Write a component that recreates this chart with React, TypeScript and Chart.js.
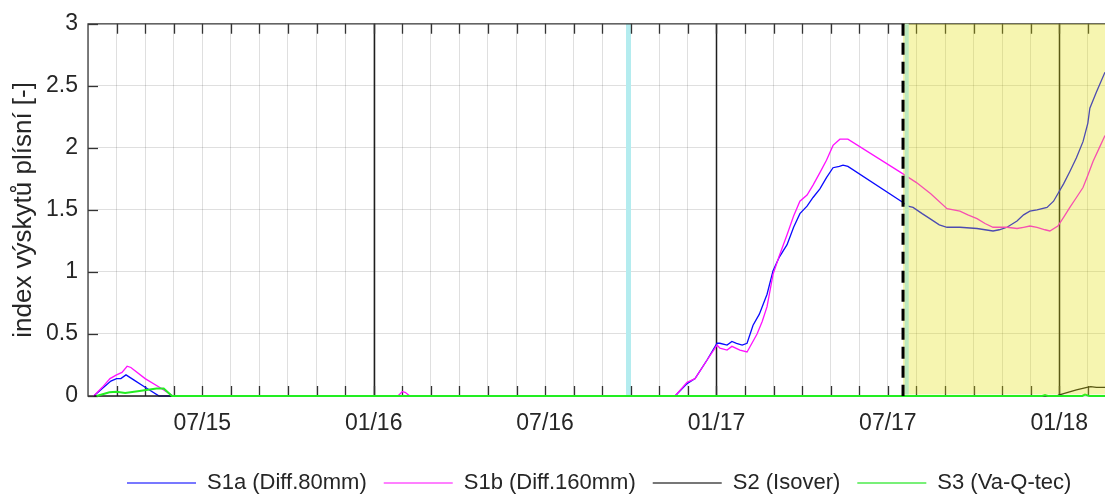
import React, { useEffect, useRef } from 'react';
import { Chart, registerables } from 'chart.js';

Chart.register(...registerables);

// x values are months counted from 01/2015 (0 = Jan 2015)
const xMin = 2;
const xMax = 37.6;
const xTickMonths = [6, 12, 18, 24, 30, 36];
const xTickLabels = ['07/15', '01/16', '07/16', '01/17', '07/17', '01/18'];
const yTickValues = [0, 0.5, 1, 1.5, 2, 2.5, 3];
const yTickLabels = ['0', '0.5', '1', '1.5', '2', '2.5', '3'];
const yTitle = 'index výskytů plísní [-]';

const seriesLabels = ['S1a (Diff.80mm)', 'S1b (Diff.160mm)', 'S2 (Isover)', 'S3 (Va-Q-tec)'];
const seriesColors = ['#0a0aff', '#ff10ff', '#1c1c1c', '#22ee22'];
const seriesWidths = [1.3, 1.3, 1.3, 2.0];
const legendColors = ['#7878ff', '#ff80ff', '#777777', '#78f078'];

const s1aMonths = [2.2, 2.5, 2.8, 3.0, 3.15, 3.33, 3.6, 4.0, 4.49, 12.0, 22.55, 22.97, 23.25, 23.67, 24.02, 24.12, 24.37, 24.54, 24.7, 24.9, 25.07, 25.28, 25.5, 25.77, 25.98, 26.2, 26.47, 26.7, 26.92, 27.17, 27.38, 27.62, 27.85, 28.08, 28.3, 28.43, 28.6, 30.53, 30.7, 30.88, 31.2, 31.47, 31.8, 32.07, 32.52, 33.12, 33.4, 33.68, 33.9, 34.17, 34.52, 34.75, 34.97, 35.22, 35.57, 35.8, 35.95, 36.15, 36.37, 36.6, 36.83, 37.0, 37.07, 37.3, 37.6];
const s1aValues = [0, 0.06, 0.12, 0.14, 0.14, 0.17, 0.13, 0.07, 0, 0, 0, 0.1, 0.14, 0.29, 0.425, 0.425, 0.41, 0.44, 0.425, 0.41, 0.425, 0.57, 0.66, 0.82, 1.01, 1.12, 1.22, 1.36, 1.47, 1.53, 1.6, 1.67, 1.76, 1.84, 1.85, 1.86, 1.85, 1.56, 1.53, 1.52, 1.47, 1.43, 1.38, 1.36, 1.36, 1.35, 1.34, 1.33, 1.34, 1.36, 1.41, 1.46, 1.49, 1.5, 1.52, 1.57, 1.63, 1.71, 1.81, 1.92, 2.05, 2.2, 2.32, 2.45, 2.61];

const s1bMonths = [2.2, 2.5, 2.77, 3.0, 3.19, 3.37, 3.5, 4.0, 4.5, 4.98, 12.85, 13.0, 13.1, 13.27, 22.55, 22.97, 23.25, 23.67, 24.02, 24.12, 24.37, 24.54, 24.82, 25.07, 25.42, 25.6, 25.77, 25.98, 26.2, 26.47, 26.7, 26.92, 27.17, 27.38, 27.62, 27.85, 28.08, 28.32, 28.6, 30.53, 31.0, 31.5, 32.07, 32.52, 32.8, 33.12, 33.4, 33.68, 34.17, 34.52, 34.75, 34.97, 35.22, 35.5, 35.67, 35.95, 36.15, 36.37, 36.6, 36.83, 37.0, 37.18, 37.4, 37.6];
const s1bValues = [0, 0.07, 0.14, 0.17, 0.19, 0.24, 0.23, 0.14, 0.07, 0, 0, 0.035, 0.03, 0, 0, 0.11, 0.14, 0.29, 0.41, 0.385, 0.37, 0.4, 0.37, 0.355, 0.5, 0.6, 0.72, 0.98, 1.13, 1.3, 1.45, 1.57, 1.62, 1.7, 1.8, 1.9, 2.02, 2.07, 2.07, 1.79, 1.72, 1.63, 1.51, 1.49, 1.46, 1.43, 1.39, 1.36, 1.36, 1.35, 1.36, 1.37, 1.36, 1.34, 1.33, 1.37, 1.44, 1.52, 1.6, 1.68, 1.78, 1.89, 2.0, 2.1];

const s2Months = [2.2, 20.0, 35.9, 36.0, 36.3, 36.6, 36.97, 37.1, 37.3, 37.6];
const s2Values = [0, 0, 0, 0.01, 0.03, 0.05, 0.07, 0.075, 0.07, 0.07];

const s3Months = [2.3, 2.75, 3.0, 3.3, 3.8, 4.4, 4.65, 4.94, 35.4, 35.5, 35.6, 36.8, 36.9, 37.05, 37.6];
const s3Values = [0, 0.03, 0.035, 0.025, 0.04, 0.06, 0.06, 0, 0, 0.008, 0, 0, 0.012, 0, 0];

const yearLineMonths = [12, 24, 36];
const cyanLineMonth = 20.92;
const dashedLineMonth = 30.53;
const greenLineMonth = 30.66;
const shadeStartMonth = 30.53;

const FONT = "'Liberation Sans', Arial, Helvetica, sans-serif";
const TEXT = '#262626';
const LEG_FS = 22;
const LEG_PAD = 17;

const toPoints = (ms: number[], vs: number[]) => ms.map((m, i) => ({ x: m, y: vs[i] }));

const decorPlugin = {
  id: 'decor',
  afterLayout(chart: any) {
    const lg = chart.legend;
    if (!lg) return;
    const dy = 483 - (lg.top + LEG_PAD + LEG_FS / 2);
    lg.top += dy;
    lg.bottom += dy;
    const startX = (lg.left + LEG_PAD + lg.right - lg.lineWidths[0]) / 2;
    const dx = 127 - startX;
    lg.left += dx;
    lg.right += dx;
  },
  beforeDatasetsDraw(chart: any) {
    const { ctx, chartArea: a, scales } = chart;
    const x = scales.x;
    const y = scales.y;
    const vline = (px: number) => {
      ctx.beginPath();
      ctx.moveTo(px, a.top);
      ctx.lineTo(px, a.bottom);
      ctx.stroke();
    };
    ctx.save();
    ctx.strokeStyle = '#b4ecef';
    ctx.lineWidth = 5;
    vline(x.getPixelForValue(cyanLineMonth));
    ctx.strokeStyle = '#1e1e1e';
    ctx.lineWidth = 1.5;
    yearLineMonths.forEach((m) => vline(Math.round(x.getPixelForValue(m)) + 0.5));
    // inward tick marks
    ctx.strokeStyle = '#333333';
    ctx.lineWidth = 1.3;
    x.ticks.forEach((t: any) => {
      const px = Math.round(x.getPixelForValue(t.value)) + 0.5;
      if (px < a.left + 1) return;
      ctx.beginPath();
      ctx.moveTo(px, a.bottom);
      ctx.lineTo(px, a.bottom - 10);
      ctx.moveTo(px, a.top);
      ctx.lineTo(px, a.top + 10);
      ctx.stroke();
    });
    y.ticks.forEach((t: any) => {
      const py = Math.round(y.getPixelForValue(t.value)) + 0.5;
      ctx.beginPath();
      ctx.moveTo(a.left, py);
      ctx.lineTo(a.left + 10, py);
      ctx.stroke();
    });
    // axes box (bottom edge is covered by the zero lines of the data)
    ctx.strokeStyle = '#3c3c3c';
    ctx.lineWidth = 1.3;
    ctx.beginPath();
    ctx.moveTo(a.right, a.top);
    ctx.lineTo(a.left, a.top);
    ctx.lineTo(a.left, a.bottom);
    ctx.lineTo(x.getPixelForValue(s3Months[0]), a.bottom);
    ctx.stroke();
    ctx.restore();
  },
  afterDatasetsDraw(chart: any) {
    const { ctx, chartArea: a, scales } = chart;
    const x = scales.x;
    ctx.save();
    const sx = x.getPixelForValue(shadeStartMonth);
    ctx.fillStyle = 'rgba(225,222,0,0.31)';
    ctx.fillRect(sx, a.top, a.right - sx, a.bottom - a.top - 1.5);
    const gx = x.getPixelForValue(greenLineMonth);
    ctx.strokeStyle = '#bde9bf';
    ctx.lineWidth = 4;
    ctx.beginPath();
    ctx.moveTo(gx, a.top);
    ctx.lineTo(gx, a.bottom - 1.5);
    ctx.stroke();
    const dxp = x.getPixelForValue(dashedLineMonth);
    ctx.strokeStyle = '#000000';
    ctx.lineWidth = 3;
    ctx.setLineDash([12, 7]);
    ctx.beginPath();
    ctx.moveTo(dxp, a.top);
    ctx.lineTo(dxp, a.bottom);
    ctx.stroke();
    ctx.restore();
  },
};

export default function App() {
  const ref = useRef<HTMLCanvasElement | null>(null);
  useEffect(() => {
    if (!ref.current) return;
    Chart.defaults.font.family = FONT;
    const series = [
      toPoints(s1aMonths, s1aValues),
      toPoints(s1bMonths, s1bValues),
      toPoints(s2Months, s2Values),
      toPoints(s3Months, s3Values),
    ];
    const chart = new Chart(ref.current, {
      type: 'scatter',
      data: {
        datasets: series.map((d, i) => ({
          label: seriesLabels[i],
          data: d,
          showLine: true,
          borderColor: seriesColors[i],
          backgroundColor: seriesColors[i],
          borderWidth: seriesWidths[i],
          pointRadius: 0,
          tension: 0,
          clip: false,
          order: 4 - i,
        })),
      },
      plugins: [decorPlugin],
      options: {
        responsive: false,
        animation: false,
        events: [],
        layout: { padding: { left: 0, top: 22, right: 0, bottom: 0 } },
        scales: {
          x: {
            type: 'linear',
            min: xMin,
            max: xMax,
            afterBuildTicks: (scale: any) => {
              const t = [];
              for (let m = Math.ceil(xMin); m <= Math.floor(xMax); m++) t.push({ value: m });
              scale.ticks = t;
            },
            afterFit: (scale: any) => {
              scale.height = 51;
            },
            grid: { color: 'rgba(38,38,38,0.15)', lineWidth: 1, drawTicks: false },
            border: { display: false },
            ticks: {
              autoSkip: false,
              maxRotation: 0,
              padding: 14,
              color: TEXT,
              font: { size: 23, family: FONT },
              callback: (v: any) => {
                const i = xTickMonths.indexOf(Number(v));
                return i >= 0 ? xTickLabels[i] : '';
              },
            },
          },
          y: {
            min: 0,
            max: 3,
            afterBuildTicks: (scale: any) => {
              scale.ticks = yTickValues.map((v) => ({ value: v }));
            },
            afterFit: (scale: any) => {
              scale.width = 88;
            },
            grid: { color: 'rgba(38,38,38,0.15)', lineWidth: 1, drawTicks: false },
            border: { display: false },
            ticks: {
              padding: 10,
              color: TEXT,
              font: { size: 23, family: FONT },
              callback: (v: any) => {
                const i = yTickValues.indexOf(Number(v));
                return i >= 0 ? yTickLabels[i] : '';
              },
            },
            title: {
              display: true,
              text: yTitle,
              color: TEXT,
              font: { size: 26, family: FONT },
              padding: { top: 8, bottom: 0 },
            },
          },
        },
        plugins: {
          tooltip: { enabled: false },
          legend: {
            display: true,
            position: 'bottom',
            labels: {
              boxWidth: 69,
              boxHeight: 2,
              padding: LEG_PAD,
              color: TEXT,
              font: { size: LEG_FS, family: FONT },
              sort: (a: any, b: any) => a.datasetIndex - b.datasetIndex,
              generateLabels: (ch: any) =>
                Chart.defaults.plugins.legend.labels.generateLabels(ch).map((it: any) => ({
                  ...it,
                  fillStyle: legendColors[it.datasetIndex],
                  strokeStyle: legendColors[it.datasetIndex],
                  lineWidth: 0,
                })),
            },
          },
        },
      },
    } as any);
    return () => chart.destroy();
  }, []);
  return (
    <div style={{ position: 'absolute', left: 0, top: 0, width: 1105, height: 496, background: '#ffffff' }}>
      <canvas ref={ref} width={1105} height={496} style={{ width: '1105px', height: '496px' }} />
    </div>
  );
}
